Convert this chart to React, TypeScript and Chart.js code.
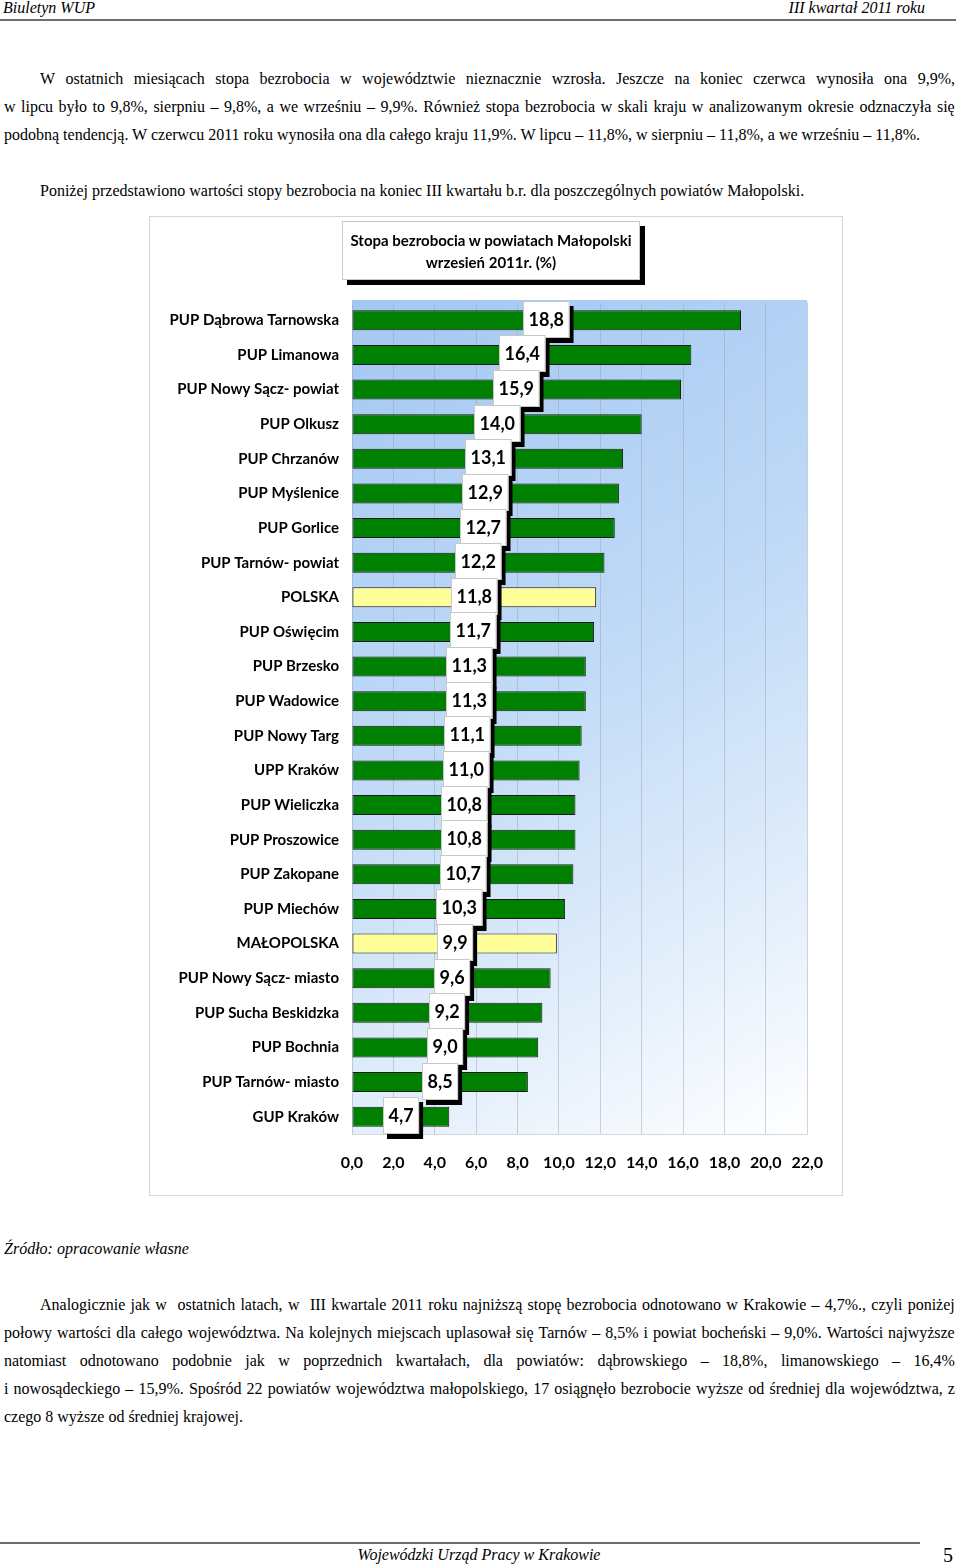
import React, { useEffect, useRef } from "react";
import { Chart, registerables } from "chart.js";

Chart.register(...registerables);

const categories = [
  "PUP Dąbrowa Tarnowska",
  "PUP Limanowa",
  "PUP Nowy Sącz- powiat",
  "PUP Olkusz",
  "PUP Chrzanów",
  "PUP Myślenice",
  "PUP Gorlice",
  "PUP Tarnów- powiat",
  "POLSKA",
  "PUP Oświęcim",
  "PUP Brzesko",
  "PUP Wadowice",
  "PUP Nowy Targ",
  "UPP Kraków",
  "PUP Wieliczka",
  "PUP Proszowice",
  "PUP Zakopane",
  "PUP Miechów",
  "MAŁOPOLSKA",
  "PUP Nowy Sącz- miasto",
  "PUP Sucha Beskidzka",
  "PUP Bochnia",
  "PUP Tarnów- miasto",
  "GUP Kraków",
];

const values = [
  18.8, 16.4, 15.9, 14.0, 13.1, 12.9, 12.7, 12.2, 11.8, 11.7, 11.3, 11.3, 11.1,
  11.0, 10.8, 10.8, 10.7, 10.3, 9.9, 9.6, 9.2, 9.0, 8.5, 4.7,
];

const highlighted = ["POLSKA", "MAŁOPOLSKA"];

const xTicks = [0, 2, 4, 6, 8, 10, 12, 14, 16, 18, 20, 22];

const titleLines = ["Stopa bezrobocia w powiatach Małopolski", "wrzesień  2011r. (%)"];

const CHART_FONT = "Lato, 'Open Sans', sans-serif";
const fmt = (v: number) => v.toFixed(1).replace(".", ",");

const bgPlugin = {
  id: "plotBg",
  beforeDraw(chart: any) {
    const { ctx, chartArea: a } = chart;
    const g = ctx.createLinearGradient(a.left, a.top, a.right, a.bottom);
    g.addColorStop(0, "#a4c7f1");
    g.addColorStop(0.45, "#c0daf7");
    g.addColorStop(0.78, "#e4effb");
    g.addColorStop(1, "#ffffff");
    ctx.save();
    ctx.fillStyle = g;
    ctx.fillRect(a.left, a.top - 3, a.right - a.left, a.bottom - a.top + 3);
    ctx.restore();
  },
};

const labelPlugin = {
  id: "boxLabels",
  afterDatasetsDraw(chart: any) {
    const { ctx } = chart;
    const meta = chart.getDatasetMeta(0);
    ctx.save();
    ctx.font = `bold 18px ${CHART_FONT}`;
    ctx.textAlign = "center";
    ctx.textBaseline = "middle";
    meta.data.forEach((bar: any, i: number) => {
      const text = fmt(values[i]);
      const w = ctx.measureText(text).width + 11;
      const h = 37;
      const cx = (bar.base + bar.x) / 2;
      const cy = bar.y - 1;
      const x0 = Math.round(cx - w / 2);
      const y0 = Math.round(cy - h / 2);
      ctx.fillStyle = "#000000";
      ctx.fillRect(x0 + 4, y0 + 5, w, h);
      ctx.fillStyle = "#ffffff";
      ctx.fillRect(x0, y0, w, h);
      ctx.strokeStyle = "#c8c8c8";
      ctx.lineWidth = 1;
      ctx.strokeRect(x0 + 0.5, y0 + 0.5, w - 1, h - 1);
      ctx.fillStyle = "#000000";
      ctx.fillText(text, x0 + w / 2, y0 + h / 2 + 1);
    });
    ctx.restore();
  },
};

function BarChart() {
  const ref = useRef<HTMLCanvasElement | null>(null);
  useEffect(() => {
    if (!ref.current) return;
    const chart = new Chart(ref.current, {
      type: "bar",
      data: {
        labels: categories,
        datasets: [
          {
            data: values,
            backgroundColor: categories.map((c) =>
              highlighted.includes(c) ? "#ffff99" : "#008000"
            ),
            borderColor: "#1a1a1a",
            borderWidth: 1,
            borderSkipped: false,
            barPercentage: 0.58,
            categoryPercentage: 1,
          },
        ],
      },
      options: {
        indexAxis: "y",
        animation: false,
        responsive: false,
        devicePixelRatio: 1,
        layout: { padding: { left: 0, right: 32, top: 86, bottom: 0 } },
        plugins: {
          legend: { display: false },
          tooltip: { enabled: false },
        },
        scales: {
          x: {
            min: 0,
            max: 22,
            afterBuildTicks(scale: any) {
              scale.ticks = xTicks.map((v) => ({ value: v }));
            },
            afterFit(scale: any) {
              scale.height = 61;
            },
            grid: {
              color: "rgba(150,160,175,0.45)",
              drawTicks: false,
            },
            border: { display: true, color: "#d4d8dc" },
            ticks: {
              padding: 19,
              color: "#000000",
              font: { family: CHART_FONT, size: 16, weight: "bold" },
              callback: (v: any) => fmt(Number(v)),
            },
          },
          y: {
            afterFit(scale: any) {
              scale.width = 202;
            },
            grid: { display: false, drawTicks: false },
            border: { display: false },
            ticks: {
              padding: 13,
              color: "#000000",
              autoSkip: false,
              font: { family: CHART_FONT, size: 15, weight: "bold" },
            },
          },
        },
      },
      plugins: [bgPlugin, labelPlugin],
    } as any);
    return () => chart.destroy();
  }, []);
  return <canvas ref={ref} width={692} height={978} style={{ display: "block" }} />;
}

const serif = "'Liberation Serif', 'Times New Roman', serif";

function JLine({ top, left, right, text }: { top: number; left: number; right: number; text: string }) {
  const words = text.split(" ");
  return (
    <div
      style={{
        position: "absolute",
        top,
        left,
        width: right - left,
        height: 28,
        lineHeight: "28px",
        display: "flex",
        justifyContent: "space-between",
        whiteSpace: "nowrap",
        fontFamily: serif,
        fontSize: 16,
      }}
    >
      {words.map((w, i) => (
        <span key={i}>{w}</span>
      ))}
    </div>
  );
}

function PLine({ top, left, text, italic }: { top: number; left: number; text: string; italic?: boolean }) {
  return (
    <div
      style={{
        position: "absolute",
        top,
        left,
        height: 28,
        lineHeight: "28px",
        whiteSpace: "nowrap",
        fontFamily: serif,
        fontSize: 16,
        fontStyle: italic ? "italic" : "normal",
      }}
    >
      {text}
    </div>
  );
}

export default function App() {
  return (
    <div
      style={{
        position: "absolute",
        left: 0,
        top: 0,
        width: 960,
        height: 1565,
        background: "#ffffff",
        overflow: "hidden",
        color: "#000",
      }}
    >
      {/* header */}
      <div style={{ position: "absolute", left: 3, top: -2, fontFamily: serif, fontStyle: "italic", fontSize: 16, lineHeight: "20px" }}>
        Biuletyn WUP
      </div>
      <div style={{ position: "absolute", right: 35, top: -2, fontFamily: serif, fontStyle: "italic", fontSize: 16, lineHeight: "20px" }}>
        III kwartał 2011 roku
      </div>
      <div style={{ position: "absolute", left: 0, top: 19, width: 956, height: 2, background: "#6e6e6e" }} />

      <JLine top={65} left={40} right={955} text="W ostatnich miesiącach stopa bezrobocia w województwie nieznacznie wzrosła. Jeszcze na koniec czerwca wynosiła ona 9,9%," />
      <JLine top={93} left={4} right={955} text="w lipcu było to 9,8%, sierpniu – 9,8%, a we wrześniu – 9,9%. Również stopa bezrobocia w skali kraju w analizowanym okresie odznaczyła się" />
      <PLine top={121} left={4} text="podobną tendencją. W czerwcu 2011 roku wynosiła ona dla całego kraju 11,9%. W lipcu – 11,8%, w sierpniu – 11,8%, a we wrześniu – 11,8%." />
      <PLine top={177} left={40} text="Poniżej przedstawiono wartości stopy bezrobocia na koniec III kwartału b.r. dla poszczególnych powiatów Małopolski." />

      {/* chart */}
      <div
        style={{
          position: "absolute",
          left: 149,
          top: 216,
          width: 692,
          height: 978,
          border: "1px solid #d6d6d6",
        }}
      >
        <BarChart />
        <div
          style={{
            position: "absolute",
            left: 192,
            top: 4,
            width: 298,
            height: 59,
            background: "#ffffff",
            border: "1px solid #c8c8c8",
            boxShadow: "5px 5px 0 #000000",
            fontFamily: CHART_FONT,
            fontWeight: "bold",
            fontSize: 15,
            lineHeight: "22px",
            textAlign: "center",
            paddingTop: 7,
            boxSizing: "border-box",
            whiteSpace: "nowrap",
          }}
        >
          <div>{titleLines[0]}</div>
          <div>{titleLines[1]}</div>
        </div>
      </div>

      <PLine top={1235} left={4} italic text="Źródło: opracowanie własne" />

      <JLine top={1291} left={40} right={955} text="Analogicznie jak w  ostatnich latach, w  III kwartale 2011 roku najniższą stopę bezrobocia odnotowano w Krakowie – 4,7%., czyli poniżej" />
      <JLine top={1319} left={4} right={955} text="połowy wartości dla całego województwa. Na kolejnych miejscach uplasował się Tarnów – 8,5% i powiat bocheński – 9,0%. Wartości najwyższe" />
      <JLine top={1347} left={4} right={955} text="natomiast odnotowano podobnie jak w poprzednich kwartałach, dla powiatów: dąbrowskiego – 18,8%, limanowskiego – 16,4%" />
      <JLine top={1375} left={4} right={955} text="i nowosądeckiego – 15,9%. Spośród 22 powiatów województwa małopolskiego, 17 osiągnęło bezrobocie wyższe od średniej dla województwa, z" />
      <PLine top={1403} left={4} text="czego 8 wyższe od średniej krajowej." />

      {/* footer */}
      <div style={{ position: "absolute", left: 0, top: 1542, width: 920, height: 2, background: "#6e6e6e" }} />
      <div style={{ position: "absolute", left: 0, width: 958, top: 1545, textAlign: "center", fontFamily: serif, fontStyle: "italic", fontSize: 16, lineHeight: "20px" }}>
        Wojewódzki Urząd Pracy w Krakowie
      </div>
      <div style={{ position: "absolute", left: 943, top: 1543, fontFamily: serif, fontSize: 20, lineHeight: "24px" }}>5</div>
    </div>
  );
}
